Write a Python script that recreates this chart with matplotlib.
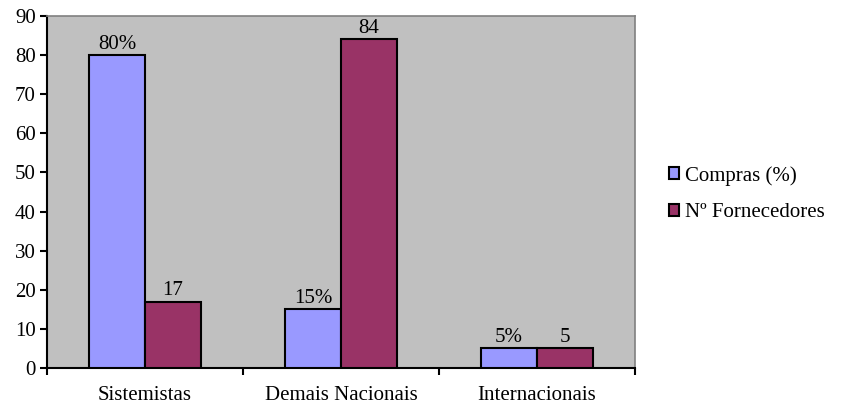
import matplotlib
matplotlib.use("Agg")
import matplotlib.pyplot as plt
from matplotlib.patches import Patch
import numpy as np

categories = ["Sistemistas", "Demais Nacionais", "Internacionais"]
compras = [80, 15, 5]
fornecedores = [17, 84, 5]
compras_labels = ["80%", "15%", "5%"]
fornecedores_labels = ["17", "84", "5"]
y_ticks = [0, 10, 20, 30, 40, 50, 60, 70, 80, 90]

plt.rcParams["font.family"] = ["Liberation Serif", "DejaVu Serif"]
FS = 15

fig = plt.figure(figsize=(8.41, 4.05), dpi=100)
ax = fig.add_axes([47 / 841, 37 / 405, (635 - 47) / 841, (368 - 16) / 405])
ax.set_facecolor("#C0C0C0")

x = np.arange(len(categories))
w = 1 / 3.5
b1 = ax.bar(x - w / 2, compras, w, color="#9999FF", edgecolor="black", linewidth=1.5, zorder=3)
b2 = ax.bar(x + w / 2, fornecedores, w, color="#993366", edgecolor="black", linewidth=1.5, zorder=3)

for rect, lab in zip(b1, compras_labels):
    ax.text(rect.get_x() + rect.get_width() / 2, rect.get_height() + 0.4, lab,
            ha="center", va="bottom", fontsize=FS)
for rect, lab in zip(b2, fornecedores_labels):
    ax.text(rect.get_x() + rect.get_width() / 2, rect.get_height() + 0.4, lab,
            ha="center", va="bottom", fontsize=FS)

ax.set_xlim(-0.5, 2.5)
ax.set_ylim(0, 90)
ax.set_yticks(y_ticks)
ax.tick_params(axis="y", labelsize=FS, length=5, width=1.5, direction="out", pad=3)
ax.set_xticks(x)
ax.set_xticklabels(categories, fontsize=FS)
ax.tick_params(axis="x", length=0, pad=13)
ax.set_xticks([-0.5, 0.5, 1.5, 2.5], minor=True)
ax.tick_params(axis="x", which="minor", length=5, width=1.5, direction="out")

for side in ["left", "bottom"]:
    ax.spines[side].set_color("black")
    ax.spines[side].set_linewidth(1.5)
for side in ["top", "right"]:
    ax.spines[side].set_color("#808080")
    ax.spines[side].set_linewidth(1.2)

handles = [Patch(facecolor="#9999FF", edgecolor="black", linewidth=1.5),
           Patch(facecolor="#993366", edgecolor="black", linewidth=1.5)]
fig.legend(handles, ["Compras (%)", "Nº Fornecedores"], loc="center left",
           bbox_to_anchor=(650 / 841, 1 - 194 / 405), frameon=False, fontsize=FS,
           handlelength=0.5, handleheight=0.5, handletextpad=0.3, labelspacing=0.85)

fig.savefig("out.png", dpi=100)
